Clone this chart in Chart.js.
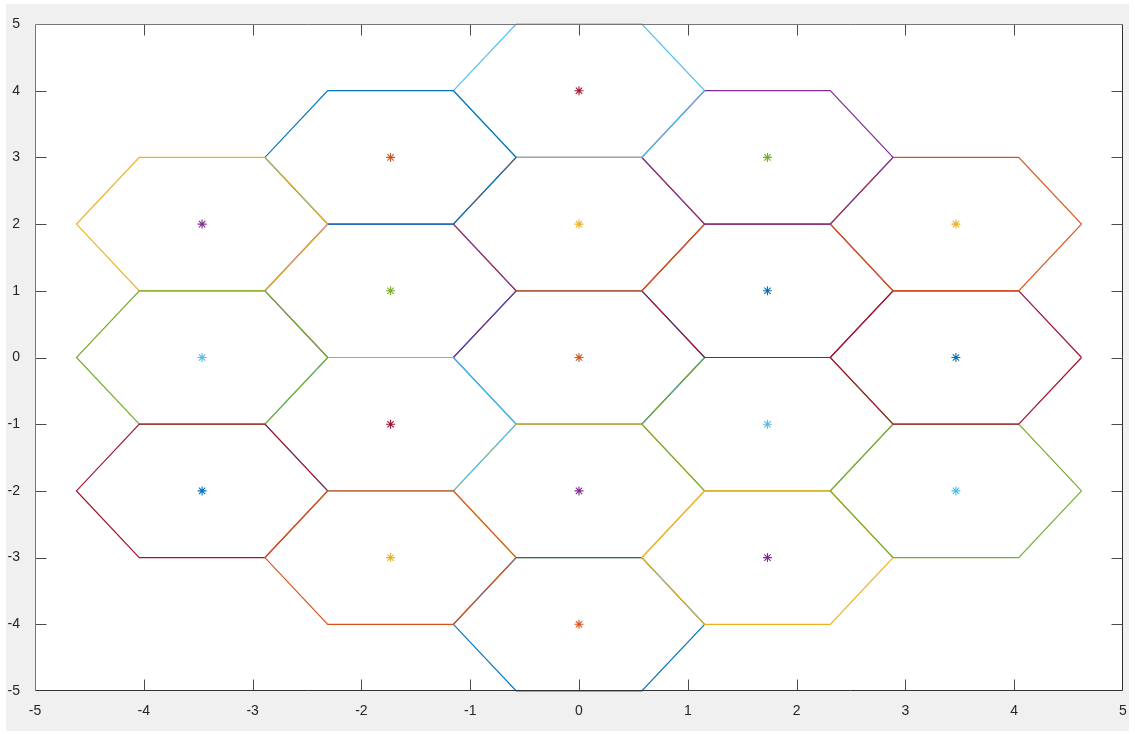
<!DOCTYPE html>
<html>
<head>
<meta charset="utf-8">
<script src="https://cdn.jsdelivr.net/npm/chart.js@4/dist/chart.umd.min.js"></script>
<style>
  html, body { margin: 0; padding: 0; background: #ffffff; }
  canvas { display: block; }
</style>
</head>
<body>
<canvas id="cells" width="1135" height="734"></canvas>
<script>
// Cell centres in plotting order: centre cell, inner ring, outer ring (anticlockwise from the bottom)
const cellX = [0, 0, 1.7321, 1.7321, 0, -1.7321, -1.7321,
               0, 1.7321, 3.4641, 3.4641, 3.4641, 1.7321, 0, -1.7321, -3.4641, -3.4641, -3.4641, -1.7321];
const cellY = [0, -2, -1, 1, 2, 1, -1,
               -4, -3, -2, 0, 2, 3, 4, 3, 2, 0, -2, -3];

// Corner offsets of a flat-topped hexagon around its centre (closed outline)
const hexDX = [1.1547, 0.5774, -0.5774, -1.1547, -0.5774, 0.5774, 1.1547];
const hexDY = [0, 1, 1, 0, -1, -1, 0];

// Axis tick values
const xTicks = [-5, -4, -3, -2, -1, 0, 1, 2, 3, 4, 5];
const yTicks = [-5, -4, -3, -2, -1, 0, 1, 2, 3, 4, 5];

// Default line colour order; each outline and each centre marker takes the next colour
const palette = ['#0072BD', '#D95319', '#EDB120', '#7E2F8E', '#77AC30', '#4DBEEE', '#A2142F'];

const datasets = [];
let plotIndex = 0;
cellX.forEach((cx, i) => {
  const cy = cellY[i];
  const outline = hexDX.map((dx, j) => ({ x: cx + dx, y: cy + hexDY[j] }));
  datasets.push({
    data: outline,
    showLine: true,
    borderColor: palette[plotIndex % palette.length],
    borderWidth: 1.2,
    pointRadius: 0,
    pointHoverRadius: 0,
    fill: false,
    tension: 0,
    clip: 3,
    order: -plotIndex
  });
  plotIndex++;
  datasets.push({
    data: [{ x: cx, y: cy }],
    showLine: false,
    pointStyle: 'star',
    pointRadius: 4.5,
    pointHoverRadius: 4.5,
    pointBorderWidth: 1.1,
    borderColor: palette[plotIndex % palette.length],
    backgroundColor: palette[plotIndex % palette.length],
    clip: 6,
    order: -plotIndex
  });
  plotIndex++;
});

// Figure background, white axes face, and the boxed axes with inward tick marks
const frame = {
  id: 'frame',
  beforeDraw(chart) {
    const ctx = chart.ctx;
    const a = chart.chartArea;
    ctx.save();
    ctx.fillStyle = '#ffffff';
    ctx.fillRect(0, 0, chart.width, chart.height);
    ctx.fillStyle = '#f0f0f0';
    ctx.fillRect(6, 4, 1123, 727);
    ctx.fillStyle = '#ffffff';
    ctx.fillRect(a.left, a.top, a.right - a.left, a.bottom - a.top);
    ctx.restore();
  },
  afterDraw(chart) {
    const ctx = chart.ctx;
    const a = chart.chartArea;
    const xs = chart.scales.x;
    const ys = chart.scales.y;
    const L = Math.round(a.left) + 0.5;
    const R = Math.round(a.right) - 0.5;
    const T = Math.round(a.top) + 0.5;
    const B = Math.round(a.bottom) - 0.5;
    const tl = 11;
    ctx.save();
    ctx.lineWidth = 1;
    ctx.strokeStyle = '#4a4a4a';
    ctx.beginPath();
    xs.ticks.forEach(t => {
      const px = Math.round(xs.getPixelForValue(t.value)) + 0.5;
      if (px <= L + 1 || px >= R - 1) return;
      ctx.moveTo(px, B); ctx.lineTo(px, B - tl);
      ctx.moveTo(px, T); ctx.lineTo(px, T + tl);
    });
    ys.ticks.forEach(t => {
      const py = Math.round(ys.getPixelForValue(t.value)) + 0.5;
      if (py <= T + 1 || py >= B - 1) return;
      ctx.moveTo(L, py); ctx.lineTo(L + tl, py);
      ctx.moveTo(R, py); ctx.lineTo(R - tl, py);
    });
    ctx.stroke();
    ctx.strokeStyle = '#777777';
    ctx.beginPath();
    ctx.moveTo(L, B); ctx.lineTo(L, T); ctx.lineTo(R, T);
    ctx.stroke();
    ctx.strokeStyle = '#303030';
    ctx.beginPath();
    ctx.moveTo(L, B); ctx.lineTo(R, B); ctx.lineTo(R, T);
    ctx.stroke();
    ctx.restore();
  }
};

const tickFont = { family: '"Liberation Sans", Arial, Helvetica, sans-serif', size: 14 };

new Chart(document.getElementById('cells'), {
  type: 'scatter',
  data: { datasets },
  options: {
    responsive: false,
    devicePixelRatio: 1,
    animation: false,
    events: [],
    layout: { padding: { left: 0, top: 24, right: 12, bottom: 0 } },
    plugins: { legend: { display: false }, tooltip: { enabled: false } },
    scales: {
      x: {
        type: 'linear',
        min: -5,
        max: 5,
        grid: { display: false },
        border: { display: false },
        afterBuildTicks: s => { s.ticks = xTicks.map(v => ({ value: v })); },
        afterFit: s => { s.height = 43; },
        ticks: {
          color: '#262626',
          font: tickFont,
          padding: 4,
          maxRotation: 0,
          autoSkip: false,
          callback: v => String(v)
        }
      },
      y: {
        type: 'linear',
        min: -5,
        max: 5,
        grid: { display: false },
        border: { display: false },
        afterBuildTicks: s => { s.ticks = yTicks.map(v => ({ value: v })); },
        afterFit: s => { s.width = 35; },
        ticks: {
          color: '#262626',
          font: tickFont,
          padding: 7,
          autoSkip: false,
          callback: v => String(v)
        }
      }
    }
  },
  plugins: [frame]
});
</script>
</body>
</html>
